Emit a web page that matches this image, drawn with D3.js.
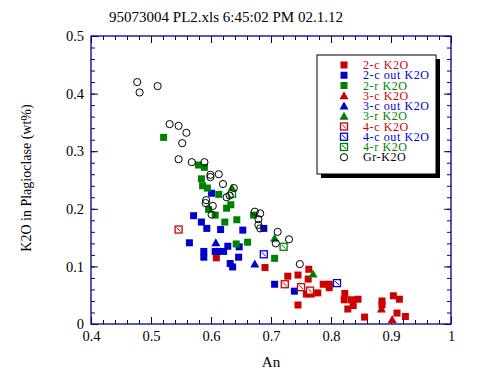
<!DOCTYPE html>
<html>
<head>
<meta charset="utf-8">
<script src="https://cdn.jsdelivr.net/npm/d3@7"></script>
<style>
  body { margin: 0; background: #fff; }
  svg text { font-family: "Times New Roman", Times, "Liberation Serif", Tinos, serif; }
</style>
</head>
<body>
<div id="chart"></div>
<script>
// Data: [An, K2O wt%]
const c2 = [[0.609,0.115],[0.690,0.098],[0.728,0.083],[0.745,0.085],[0.763,0.095],[0.762,0.078],[0.745,0.033],
    [0.759,0.052],[0.767,0.052],[0.778,0.054],[0.787,0.069],[0.797,0.069],[0.797,0.063],[0.823,0.053],[0.822,0.042],
    [0.834,0.042],[0.845,0.043],[0.837,0.032],[0.828,0.026],[0.856,0.012],[0.885,0.040],[0.885,0.033],[0.904,0.049],
    [0.914,0.043],[0.910,0.019],[0.924,0.013]]
const c2out = [[0.601,0.227],[0.571,0.188],[0.584,0.177],[0.593,0.166],[0.616,0.164],[0.653,0.163],[0.688,0.166],
    [0.564,0.141],[0.588,0.126],[0.588,0.116],[0.607,0.126],[0.614,0.126],[0.621,0.126],[0.628,0.135],[0.647,0.134],
    [0.646,0.116],[0.632,0.105],[0.636,0.099],[0.706,0.069],[0.739,0.057]]
const r2 = [[0.521,0.324],[0.579,0.276],[0.589,0.272],[0.584,0.252],[0.586,0.240],[0.594,0.236],[0.613,0.225],
    [0.596,0.199],[0.607,0.189],[0.626,0.201],[0.633,0.207],[0.623,0.177],[0.643,0.181],[0.671,0.189],[0.661,0.142],
    [0.642,0.139],[0.706,0.114]]
const c3 = [[0.884,0.026],[0.902,0.008]]
const c3out = [[0.608,0.141],[0.673,0.104]]
const r3 = [[0.635,0.236],[0.706,0.149],[0.770,0.087]]
const c4 = [[0.546,0.164],[0.723,0.069],[0.750,0.064],[0.765,0.058]]
const c4out = [[0.688,0.121],[0.810,0.071]]
const r4 = [[0.721,0.134],[0.635,0.226]]
const gr = [[0.477,0.420],[0.481,0.402],[0.511,0.413],[0.531,0.347],[0.546,0.344],[0.559,0.332],[0.552,0.314],
    [0.546,0.286],[0.568,0.281],[0.589,0.281],[0.599,0.259],[0.599,0.255],[0.613,0.260],[0.620,0.243],[0.638,0.236],
    [0.626,0.220],[0.631,0.223],[0.592,0.215],[0.591,0.210],[0.603,0.205],[0.601,0.190],[0.673,0.195],[0.682,0.192],
    [0.679,0.182],[0.679,0.172],[0.682,0.166],[0.711,0.160],[0.730,0.147],[0.708,0.140],[0.748,0.104]]

const seriesNames = ["2-c K2O","2-c out K2O","2-r K2O","3-c K2O","3-c out K2O","3-r K2O","4-c K2O","4-c out K2O","4-r K2O","Gr-K2O"]
const seriesData = [c2, c2out, r2, c3, c3out, r3, c4, c4out, r4, gr]
const seriesShape = ["square","square","square","triangle","triangle","triangle","hatch","hatch","hatch","circle"]
const seriesColor = ["#cc0000","#0000cc","#008000","#cc0000","#0000cc","#008000","#cc0000","#0000cc","#008000","#000000"]

const xTickValues = [0.4, 0.5, 0.6, 0.7, 0.8, 0.9, 1]
const yTickValues = [0, 0.1, 0.2, 0.3, 0.4, 0.5]
const xMinorTicks = d3.range(0, 31).map(i => 0.4 + i * 0.02)
const yMinorTicks = d3.range(0, 26).map(i => i * 0.02)

// Set dimensions
let dimensions = {
    width: 480,
    height: 377,
    margin: { top: 36, right: 29, bottom: 53, left: 91 },
}
dimensions.boundedWidth = dimensions.width - dimensions.margin.left - dimensions.margin.right
dimensions.boundedHeight = dimensions.height - dimensions.margin.top - dimensions.margin.bottom

const axisColor = "#000080"
const serif = "'Times New Roman', Times, 'Liberation Serif', Tinos, serif"

// Scales
const xScale = d3.scaleLinear().domain([0.4, 1]).range([0, dimensions.boundedWidth])
const yScale = d3.scaleLinear().domain([0, 0.5]).range([dimensions.boundedHeight, 0])

const svg = d3.select("#chart").append("svg")
    .attr("width", dimensions.width)
    .attr("height", dimensions.height)

const bounds = svg.append("g")
    .attr("transform", `translate(${dimensions.margin.left},${dimensions.margin.top})`)

function styleAxis(g) {
    g.attr("font-family", serif)
    g.select(".domain").remove()
    g.selectAll("line").attr("stroke", axisColor)
    g.selectAll("text").attr("fill", "#000").style("font-size", "14.5px").style("font-family", serif)
}

// minor ticks on all four sides, pointing in
bounds.append("g").attr("transform", `translate(0,${dimensions.boundedHeight})`)
    .call(d3.axisBottom(xScale).tickValues(xMinorTicks).tickSize(-4).tickFormat("")).call(styleAxis)
bounds.append("g")
    .call(d3.axisTop(xScale).tickValues(xMinorTicks).tickSize(-4).tickFormat("")).call(styleAxis)
bounds.append("g")
    .call(d3.axisLeft(yScale).tickValues(yMinorTicks).tickSize(-4).tickFormat("")).call(styleAxis)
bounds.append("g").attr("transform", `translate(${dimensions.boundedWidth},0)`)
    .call(d3.axisRight(yScale).tickValues(yMinorTicks).tickSize(-4).tickFormat("")).call(styleAxis)

// major ticks + labels
bounds.append("g").attr("transform", `translate(0,${dimensions.boundedHeight})`)
    .call(d3.axisBottom(xScale).tickValues(xTickValues).tickSize(-7).tickPadding(7).tickFormat(d3.format("")))
    .call(styleAxis)
bounds.append("g")
    .call(d3.axisTop(xScale).tickValues(xTickValues).tickSize(-7).tickFormat(""))
    .call(styleAxis)
bounds.append("g")
    .call(d3.axisLeft(yScale).tickValues(yTickValues).tickSize(-7).tickPadding(7).tickFormat(d3.format("")))
    .call(styleAxis)
bounds.append("g").attr("transform", `translate(${dimensions.boundedWidth},0)`)
    .call(d3.axisRight(yScale).tickValues(yTickValues).tickSize(-7).tickFormat(""))
    .call(styleAxis)

// frame
bounds.append("rect")
    .attr("width", dimensions.boundedWidth)
    .attr("height", dimensions.boundedHeight)
    .attr("fill", "none")
    .attr("stroke", axisColor)
    .attr("stroke-width", 1.3)

// markers
function drawMarker(g, shape, color, x, y) {
    if (shape === "square") {
        g.append("rect").attr("x", x - 3.5).attr("y", y - 3.5).attr("width", 7).attr("height", 7)
            .attr("fill", color)
    } else if (shape === "triangle") {
        g.append("path").attr("d", `M${x},${y - 4.5}L${x + 4.5},${y + 3.5}L${x - 4.5},${y + 3.5}Z`)
            .attr("fill", color)
    } else if (shape === "hatch") {
        g.append("rect").attr("x", x - 3.5).attr("y", y - 3.5).attr("width", 7).attr("height", 7)
            .attr("fill", "#fff").attr("stroke", color).attr("stroke-width", 1.3)
        g.append("line").attr("x1", x - 2).attr("y1", y - 2).attr("x2", x + 2).attr("y2", y + 2)
            .attr("stroke", color).attr("stroke-width", 1)
    } else {
        g.append("circle").attr("cx", x).attr("cy", y).attr("r", 3.6)
            .attr("fill", "none").attr("stroke", color).attr("stroke-width", 1)
    }
}

const marks = bounds.append("g")
seriesData.forEach((data, i) => {
    data.forEach(d => drawMarker(marks, seriesShape[i], seriesColor[i], xScale(d[0]), yScale(d[1])))
})

// legend
const legend = svg.append("g").attr("transform", "translate(317,55)")
legend.append("rect").attr("x", 4).attr("y", 4).attr("width", 119).attr("height", 119).attr("fill", "#000")
legend.append("rect").attr("width", 119).attr("height", 119).attr("fill", "#fff")
    .attr("stroke", "#000").attr("stroke-width", 1)
seriesNames.forEach((name, i) => {
    const y = 10 + i * 10.25
    drawMarker(legend, seriesShape[i], seriesColor[i], 27, y)
    legend.append("text").attr("x", 46).attr("y", y).attr("dy", "0.35em")
        .attr("fill", seriesColor[i]).style("font-size", "12px").style("letter-spacing", "0.6px")
        .style("font-family", serif).text(name)
})

// labels
svg.append("text").attr("x", 226).attr("y", 17).attr("dy", "0.35em").attr("text-anchor", "middle")
    .style("font-size", "15px").style("font-family", serif).text("95073004 PL2.xls 6:45:02 PM 02.1.12")
svg.append("text").attr("x", dimensions.margin.left + dimensions.boundedWidth / 2).attr("y", 362)
    .attr("dy", "0.35em").attr("text-anchor", "middle").style("font-size", "15px").style("font-family", serif).text("An")
svg.append("text").attr("transform", "translate(26,178) rotate(-90)").attr("dy", "0.35em")
    .attr("text-anchor", "middle").style("font-size", "14px").style("font-family", serif).text("K2O in Plagioclase (wt%)")
</script>
</body>
</html>
